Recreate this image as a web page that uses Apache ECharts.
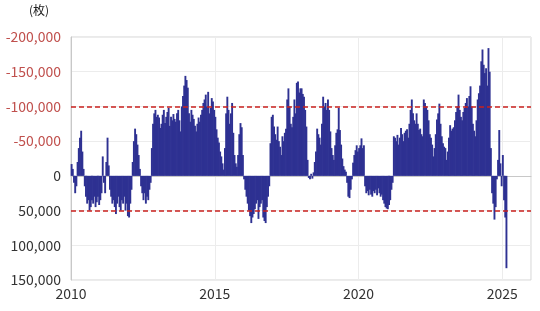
<!DOCTYPE html>
<html>
<head>
<meta charset="utf-8">
<script src="https://cdn.jsdelivr.net/npm/echarts@6/dist/echarts.min.js"></script>
<style>
html,body{margin:0;padding:0;background:#fff;}
#c{width:540px;height:311px;}
</style>
</head>
<body>
<div id="c"></div>
<script>
// Net position (thousands of contracts), semi-monthly
const y2010 = [-17,-10,10,25,15,-20,-40,-55,-65,-35,-10,15,30,40,35,50,45,35,40,30,45,38,30,42];
const y2011 = [35,25,-28,10,25,-20,-55,-15,20,30,40,35,45,55,40,30,45,50,35,40,30,50,40,58];
const y2012 = [60,40,20,-20,-50,-68,-60,-45,-30,-10,15,25,35,25,40,30,35,20,10,-40,-75,-90,-95,-85];
const y2013 = [-88,-84,-69,-75,-88,-95,-76,-85,-92,-98,-72,-85,-80,-89,-82,-78,-90,-95,-80,-64,-100,-115,-130,-144];
const y2014 = [-138,-127,-90,-78,-95,-88,-82,-72,-64,-75,-84,-78,-88,-95,-105,-110,-117,-100,-121,-90,-98,-112,-107,-95];
const y2015 = [-85,-67,-55,-48,-35,-28,-18,-9,-40,-90,-114,-95,-75,-90,-105,-62,-30,-18,-13,-30,-60,-76,-70,-30];
const y2016 = [5,20,30,40,50,58,68,60,55,48,40,35,62,45,40,35,60,65,68,45,30,15,-47,-85];
const y2017 = [-88,-71,-60,-52,-71,-50,-42,-30,-57,-50,-62,-68,-110,-126,-100,-75,-70,-85,-110,-90,-134,-136,-120,-126];
const y2018 = [-126,-118,-114,-95,-71,-23,3,5,-3,4,-5,-20,-35,-68,-60,-55,-45,-75,-114,-100,-105,-95,-110,-95];
const y2019 = [-64,-40,-30,-23,-44,-62,-67,-98,-66,-45,-25,-14,-9,-6,10,30,32,20,5,-19,-30,-37,-44,-35];
const y2020 = [-40,-44,-54,-40,-44,15,25,22,28,20,27,30,22,25,20,28,18,25,30,27,35,40,45,47];
const y2021 = [48,42,35,20,10,-57,-55,-50,-59,-45,-55,-69,-60,-50,-62,-65,-67,-55,-75,-95,-110,-90,-80,-75];
const y2022 = [-90,-75,-66,-68,-60,-57,-110,-105,-100,-95,-80,-60,-55,-45,-28,-40,-60,-81,-90,-104,-75,-57,-47,-42];
const y2023 = [-40,-23,-35,-55,-73,-65,-68,-70,-80,-92,-100,-117,-95,-85,-80,-92,-98,-105,-112,-100,-115,-129,-100,-75];
const y2024 = [-65,-57,-80,-110,-119,-130,-165,-182,-160,-148,-155,-130,-184,-150,-40,25,40,63,45,5,-23,-66,-18,15];
const y2025 = [-30,35,60,133];

const years = [2010,2011,2012,2013,2014,2015,2016,2017,2018,2019,2020,2021,2022,2023,2024,2025];
const series = [y2010,y2011,y2012,y2013,y2014,y2015,y2016,y2017,y2018,y2019,y2020,y2021,y2022,y2023,y2024,y2025];
const yTicks = [-200000,-150000,-100000,-50000,0,50000,100000,150000];
const xTicks = [2010,2015,2020,2025];
const refLines = [-100000, 50000];

const data = [];
years.forEach((yr, k) => {
  series[k].forEach((v, i) => data.push([yr + (i + 0.5) / 24, v * 1000]));
});

const chart = echarts.init(document.getElementById('c'));
chart.setOption({
  animation: false,
  backgroundColor: '#fff',
  graphic: [{
    type: 'text', left: 29, top: 4,
    style: { text: '(枚)', font: '12px "Noto Sans CJK JP"', fill: '#222' }
  }],
  grid: { left: 71, right: 9, top: 37, bottom: 31, show: true, borderColor: '#d4d4d4', borderWidth: 1 },
  xAxis: {
    type: 'value', min: 2010, max: 2026, interval: 5,
    axisLine: { show: true, lineStyle: { color: '#c8c8c8' } },
    axisTick: { show: false },
    axisLabel: {
      showMaxLabel: false, color: '#333', fontSize: 14, margin: 7,
      fontFamily: 'Noto Sans CJK JP', formatter: v => String(v)
    },
    splitLine: { show: true, lineStyle: { color: '#ececec' } }
  },
  yAxis: {
    type: 'value', inverse: true, min: -200000, max: 150000, interval: 50000,
    axisLine: { show: true, lineStyle: { color: '#c8c8c8' } },
    axisTick: { show: false },
    axisLabel: {
      fontSize: 14, margin: 10, fontFamily: 'Noto Sans CJK JP',
      color: v => (Number(v) < 0 ? '#c0504d' : '#333'),
      formatter: v => Number(v).toLocaleString('en-US')
    },
    splitLine: { show: true, lineStyle: { color: '#ececec' } }
  },
  series: [{
    type: 'bar',
    data: data,
    barWidth: 1.9,
    itemStyle: { color: '#2e3192' },
    markLine: {
      silent: true, symbol: 'none', label: { show: false },
      lineStyle: { color: '#c9211e', type: [5, 3], width: 1.6 },
      data: refLines.map(v => ({ yAxis: v }))
    }
  }]
});
</script>
</body>
</html>
